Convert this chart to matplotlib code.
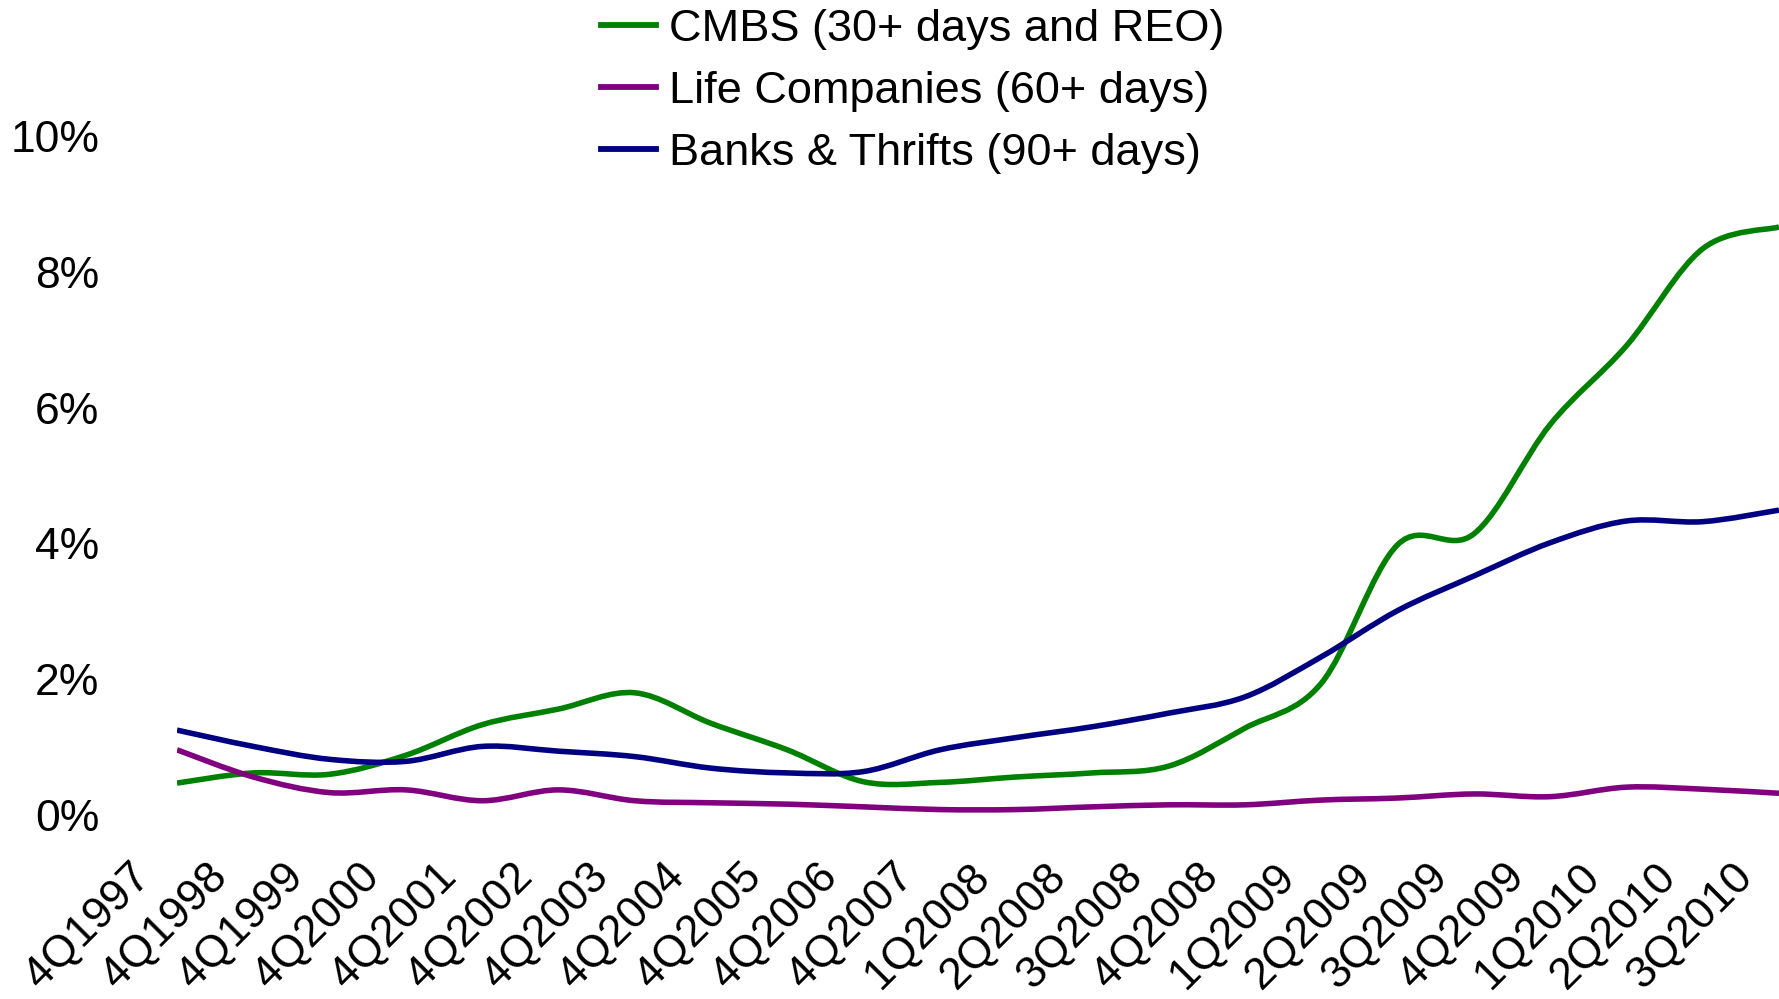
import numpy as np
import matplotlib.pyplot as plt
from matplotlib.path import Path
from matplotlib.patches import PathPatch
from matplotlib.lines import Line2D
from matplotlib.transforms import ScaledTranslation

plt.rcParams['font.family'] = ['Liberation Sans', 'DejaVu Sans']

quarters = ['4Q1997', '4Q1998', '4Q1999', '4Q2000', '4Q2001', '4Q2002',
            '4Q2003', '4Q2004', '4Q2005', '4Q2006', '4Q2007', '1Q2008',
            '2Q2008', '3Q2008', '4Q2008', '1Q2009', '2Q2009', '3Q2009',
            '4Q2009', '1Q2010', '2Q2010', '3Q2010']

# delinquency rates, percent
cmbs = [0.47, 0.62, 0.60, 0.88, 1.33, 1.56, 1.80, 1.35, 0.96, 0.49, 0.48,
        0.56, 0.62, 0.72, 1.28, 1.94, 3.98, 4.14, 5.75, 6.91, 8.34, 8.66]
life = [0.96, 0.56, 0.33, 0.37, 0.21, 0.37, 0.21, 0.18, 0.16, 0.12, 0.08,
        0.08, 0.12, 0.15, 0.15, 0.22, 0.25, 0.31, 0.27, 0.41, 0.38, 0.32]
banks = [1.25, 1.01, 0.82, 0.79, 1.01, 0.94, 0.86, 0.69, 0.62, 0.64, 0.96,
         1.14, 1.30, 1.50, 1.74, 2.33, 3.01, 3.52, 4.01, 4.33, 4.32, 4.49]

series = [
    ('CMBS (30+ days and REO)', cmbs, '#008000'),
    ('Life Companies (60+ days)', life, '#800080'),
    ('Banks & Thrifts (90+ days)', banks, '#000080'),
]


def smooth_path(y):
    # cubic bezier through every point, catmull-rom style tangents
    pts = np.column_stack([np.arange(len(y)), y]).astype(float)
    ext = np.vstack([pts[:1], pts, pts[-1:]])
    verts = [pts[0]]
    codes = [Path.MOVETO]
    for i in range(len(pts) - 1):
        p0, p1, p2, p3 = ext[i], ext[i + 1], ext[i + 2], ext[i + 3]
        verts += [p1 + (p2 - p0) / 6, p2 - (p3 - p1) / 6, p2]
        codes += [Path.CURVE4] * 3
    return Path(verts, codes)


W, H, DPI = 1779, 999, 100
fig = plt.figure(figsize=(W / DPI, H / DPI), dpi=DPI)

px_x = 76.7   # pixels per category
px_y = 67.9   # pixels per percent
left = 177
zero_y = 815
ylo, yhi = -0.5, 10.5
ax = fig.add_axes([left / W, (H - zero_y + ylo * px_y) / H,
                   (W - left) / W, (yhi - ylo) * px_y / H])
ax.set_xlim(0, (W - left) / px_x)
ax.set_ylim(ylo, yhi)

for name, vals, color in series:
    ax.add_patch(PathPatch(smooth_path(vals), fill=False, edgecolor=color,
                           lw=4.0, capstyle='butt', joinstyle='round'))

for s in ax.spines.values():
    s.set_visible(False)

ax.set_yticks(range(0, 11, 2))
ax.set_yticklabels([f'{v}%' for v in range(0, 11, 2)], fontsize=32)
ax.set_xticks(range(len(quarters)))
ax.set_xticklabels(quarters, fontsize=32, rotation=45, ha='right',
                   va='top', rotation_mode='anchor')
ax.tick_params(axis='y', length=0, pad=56)
ax.tick_params(axis='x', length=0, pad=5)
shift = ScaledTranslation(-47 / DPI, 0, fig.dpi_scale_trans)
for lbl in ax.get_xticklabels():
    lbl.set_transform(lbl.get_transform() + shift)

handles = [Line2D([], [], color=c, lw=4.2) for _, _, c in series]
fig.legend(handles, [n for n, _, _ in series], loc='upper left',
           bbox_to_anchor=(601 / W, 1 - 9 / H), frameon=False, fontsize=32.5,
           handlelength=1.22, handletextpad=0.28, labelspacing=0.46,
           borderpad=0, borderaxespad=0)

fig.savefig('out.png', dpi=DPI)
